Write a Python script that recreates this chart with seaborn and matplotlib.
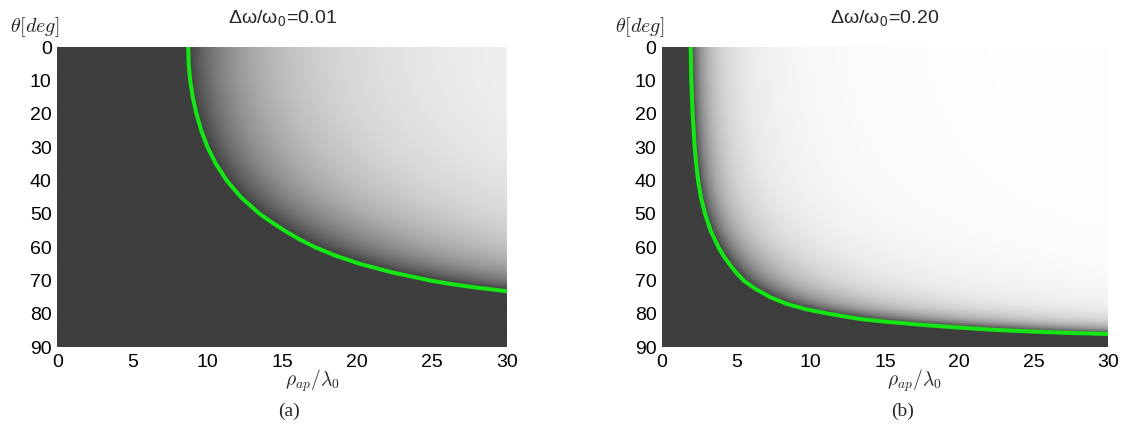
import numpy as np
import matplotlib
matplotlib.use("Agg")
import matplotlib.pyplot as plt
import seaborn as sns
from matplotlib.colors import LinearSegmentedColormap
from matplotlib.transforms import blended_transform_factory

# ---------------- data ----------------
titles = ["Δω/ω$_\\mathregular{0}$=0.01", "Δω/ω$_\\mathregular{0}$=0.20"]
captions = ["(a)", "(b)"]
x_ticks = [0, 5, 10, 15, 20, 25, 30]
y_ticks = [0, 10, 20, 30, 40, 50, 60, 70, 80, 90]

# boundary (green) curve: theta [deg] vs rho_ap/lambda_0
theta_a = [0, 5, 10, 15, 20, 25, 30, 35, 40, 45, 50, 52.5, 55, 57.5, 60,
           62.5, 65, 67.5, 70, 71, 72, 73.2]
rho_a = [8.73, 8.76, 8.86, 9.03, 9.28, 9.6, 10.02, 10.58, 11.3, 12.25, 13.5,
         14.3, 15.15, 16.1, 17.2, 18.55, 20.2, 22.3, 24.9, 26.2, 27.8, 30.0]
theta_b = [0, 10, 20, 30, 35, 40, 45, 50, 55, 60, 62.5, 65, 67.5, 70, 72.5,
           75, 77, 78.6, 80, 81.5, 82.3, 83.2, 84.1, 84.8, 85.3, 85.7, 86.0]
rho_b = [1.93, 1.97, 2.06, 2.2, 2.3, 2.43, 2.62, 2.9, 3.27, 3.8, 4.13, 4.53,
         4.97, 5.5, 6.3, 7.3, 8.4, 9.7, 11.3, 13.3, 15.0, 17.3, 20.0, 22.5,
         25.0, 27.5, 30.0]

# ---------------- style ----------------
sns.set_style("white")
plt.rcParams["font.family"] = ["Liberation Sans", "DejaVu Sans"]
plt.rcParams["mathtext.fontset"] = "cm"

dark = "#3e3e3e"
cmap = LinearSegmentedColormap.from_list("dk", [dark, "#ffffff"])
green = "#14e614"

fig = plt.figure(figsize=(11.25, 4.25), dpi=100)
W, H = 1125.0, 425.0
bottom = (H - 347.3) / H
height = 300.0 / H
ax_a = fig.add_axes([57.3 / W, bottom, 450.0 / W, height])
ax_b = fig.add_axes([662.0 / W, bottom, 446.0 / W, height])

panels = [
    (ax_a, theta_a, rho_a, titles[0], captions[0], 289.0),
    (ax_b, theta_b, rho_b, titles[1], captions[1], 903.0),
]

xg = np.linspace(0, 30, 700)
tg = np.linspace(0, 90, 500)
XX, TT = np.meshgrid(xg, tg)

for ax, th, rh, title, cap, capx in panels:
    xb = np.interp(TT, th, rh, right=np.inf)
    r = XX / xb
    field = np.where(r > 1, 1 - 1 / np.maximum(r, 1e-9) ** 2, 0.0)
    ax.imshow(field, extent=[0, 30, 90, 0], aspect="auto", cmap=cmap,
              vmin=0, vmax=1, interpolation="bilinear", origin="upper")
    sns.lineplot(x=rh, y=th, sort=False, estimator=None, color=green,
                 lw=2.9, ax=ax)
    ax.set_xlim(0, 30)
    ax.set_ylim(90, 0)
    ax.set_xticks(x_ticks)
    ax.set_yticks(y_ticks)
    ax.tick_params(direction="in", length=4, width=0.8, color="#c0c0c0",
                   labelsize=14, labelcolor="black")
    ax.tick_params(axis="x", pad=5)
    ax.tick_params(axis="y", pad=4)
    for s in ax.spines.values():
        s.set_visible(False)
    ax.set_xlabel("")
    ax.set_ylabel("")
    ax.set_title(title, fontsize=14, pad=17)
    ax.text(0.005, 1.068, r"$\theta[deg]$", transform=ax.transAxes,
            ha="right", va="center", fontsize=14.5)
    tr = blended_transform_factory(ax.transData, ax.transAxes)
    ax.text(17.0, -0.11, r"$\rho_{ap}/\lambda_0$", transform=tr,
            ha="center", va="center", fontsize=14)
    fig.text(capx / W, 1 - 411.0 / H, cap, family="Liberation Serif",
             fontsize=14, ha="center", va="center")

fig.savefig("out.png", dpi=100)
